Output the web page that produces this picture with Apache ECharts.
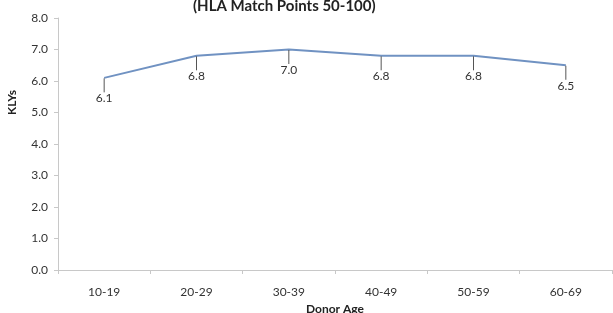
<!DOCTYPE html>
<html>
<head>
<meta charset="utf-8">
<script src="https://cdn.jsdelivr.net/npm/echarts@6/dist/echarts.min.js"></script>
<style>
  html, body { margin: 0; padding: 0; background: #fff; }
  #main { width: 613px; height: 313px; }
</style>
</head>
<body>
<div id="main"></div>
<script>
// donor age groups and KLYs values
var ageGroups = ['10-19', '20-29', '30-39', '40-49', '50-59', '60-69'];
var klys = [6.1, 6.8, 7.0, 6.8, 6.8, 6.5];
var yTicks = [0, 1, 2, 3, 4, 5, 6, 7, 8];

var chartDom = document.getElementById('main');
var myChart = echarts.init(chartDom);
var option;

option = {
    animation: false,
    textStyle: { fontFamily: 'Lato, "Open Sans", sans-serif' },
    title: {
        text: '(HLA Match Points 50-100)',
        left: 188,
        top: -6,
        textStyle: { fontSize: 15, fontWeight: 'bold', color: '#222', fontFamily: 'Lato, sans-serif' }
    },
    grid: { left: 58, right: 1, top: 18, bottom: 43, containLabel: false, outerBoundsMode: 'none' },
    graphic: [
        {
            type: 'text',
            left: 6,
            top: 90,
            rotation: Math.PI / 2,
            style: { text: 'KLYs', font: 'bold 12px Lato, sans-serif', fill: '#222' }
        }
    ],
    xAxis: {
        type: 'category',
        data: ageGroups,
        boundaryGap: true,
        name: 'Donor Age',
        nameLocation: 'middle',
        nameGap: 32,
        nameTextStyle: { fontSize: 12, fontWeight: 'bold', color: '#222' },
        axisLine: { lineStyle: { color: '#c8c8c8', width: 1 } },
        axisTick: { show: true, length: 4, lineStyle: { color: '#c8c8c8' } },
        axisLabel: { fontSize: 12, color: '#333', margin: 16 }
    },
    yAxis: {
        type: 'value',
        min: yTicks[0],
        max: yTicks[yTicks.length - 1],
        interval: 1,
        axisLine: { show: true, lineStyle: { color: '#c8c8c8', width: 1 } },
        axisTick: { show: true, length: 4, lineStyle: { color: '#c8c8c8' } },
        splitLine: { show: false },
        axisLabel: {
            fontSize: 12, color: '#333', margin: 10,
            formatter: function (v) { return v.toFixed(1); }
        }
    },
    series: [
        {
            type: 'line',
            data: klys,
            symbol: 'circle',
            symbolSize: 1,
            itemStyle: { color: 'rgba(0,0,0,0)', borderWidth: 0 },
            lineStyle: { color: '#7092c2', width: 2 },
            label: {
                show: true,
                position: 'bottom',
                distance: 2,
                fontSize: 12,
                color: '#333',
                formatter: function (p) { return p.value.toFixed(1); }
            },
            labelLayout: { dy: 12 },
            labelLine: { show: true, lineStyle: { color: '#555', width: 1 } }
        }
    ]
};

option && myChart.setOption(option);
</script>
</body>
</html>
